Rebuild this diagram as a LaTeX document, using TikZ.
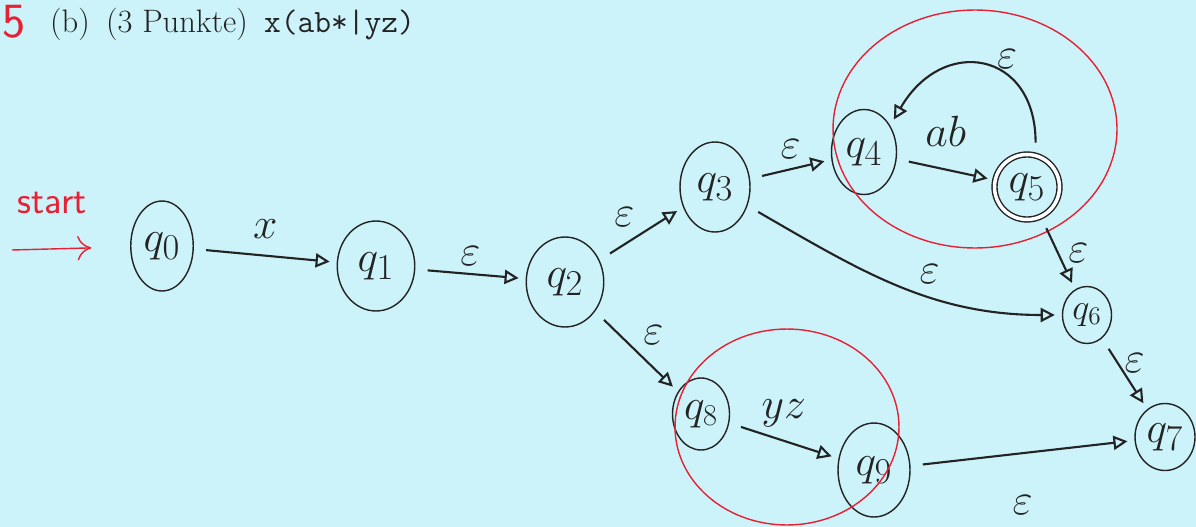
\documentclass[tikz,border=0pt]{standalone}
\usepackage{tikz}
\usetikzlibrary{arrows.meta,shapes.geometric}
\definecolor{paper}{RGB}{204,243,250}
\definecolor{pen}{RGB}{35,35,35}
\definecolor{redpen}{RGB}{232,32,52}

\begin{document}
\begin{tikzpicture}[
        x=0.02cm, y=-0.02cm,
        every node/.style={font=\fontsize{30}{34}\selectfont, text=pen},
        qstate/.style={draw=pen, thick, ellipse, inner sep=0pt, minimum width=1.4cm, minimum height=1.8cm},
        edge/.style={draw=pen, very thick, -{Triangle[open, length=8pt, width=8pt]}, shorten <=7pt, shorten >=4pt},
        lbl/.style={font=\fontsize{26}{30}\selectfont},
        hand/.style={text=redpen, font=\fontsize{22}{26}\selectfont\sffamily},
    ]
        % --- page ---
        \fill[paper] (0,0) rectangle (1196,527);
        \useasboundingbox (0,0) rectangle (1196,527);

        % --- header ---
        \node[hand, font=\fontsize{28}{30}\selectfont\sffamily] (mark) at (14,22) {5};
        \node[anchor=west, font=\fontsize{18.5}{22}\selectfont] (task) at (44,24)
            {(b)\enspace (3 Punkte)\enspace \texttt{x(ab*|yz)}};

        % --- states ---
        \node[qstate, minimum width=1.25cm]  (q0) at (162,246)  {$q_0$};
        \node[qstate, minimum width=1.55cm] (q1) at (376,266)  {$q_1$};
        \node[qstate, minimum width=1.55cm] (q2) at (565,282)  {$q_2$};
        \node[qstate]                       (q3) at (715,187)  {$q_3$};
        \node[qstate, minimum width=1.3cm, minimum height=1.7cm] (q4) at (864,152) {$q_4$};
        \node[qstate, double, double distance=2pt, minimum width=1.3cm, minimum height=1.3cm] (q5) at (1027,187) {$q_5$};
        \node[qstate, font=\fontsize{22}{26}\selectfont, minimum width=0.98cm, minimum height=1.14cm] (q6) at (1087,315) {$q_6$};
        \node[qstate, minimum width=1.2cm, minimum height=1.34cm] (q7) at (1165,437) {$q_7$};
        \node[qstate, font=\fontsize{24}{28}\selectfont, minimum width=1.14cm, minimum height=1.44cm] (q8) at (701,414) {$q_8$};
        \node[qstate, minimum width=1.44cm, minimum height=1.88cm] (q9) at (874,470) {$q_9$};

        % --- start ---
        \node[hand] (start) at (52,203) {start};
        \coordinate (entry) at (12,250);
        \draw[redpen, thick, -{To[length=8pt, width=14pt]}, shorten >=22pt] (entry) -- (q0);

        % --- red marks ---
        \draw[redpen, thick] (975,129) ellipse [x radius=2.84cm, y radius=2.38cm];
        \draw[redpen, thick] (787,427) ellipse [x radius=2.24cm, y radius=1.96cm];

        % --- transitions ---
        \draw[edge] (q0) -- node[lbl, above=6pt] {$x$} (q1);
        \draw[edge] (q1) -- node[lbl, above=1pt] {$\varepsilon$} (q2);
        \draw[edge] (q2) -- node[lbl, above left] {$\varepsilon$} (q3);
        \draw[edge] (q3) -- node[lbl, above=2pt] {$\varepsilon$} (q4);
        \draw[edge] (q4) -- node[lbl, above=9pt] {$ab$} (q5);
        \draw[edge] (q5.75) to[out=90, in=60, looseness=1.8] node[lbl, above=2pt, pos=0.35] {$\varepsilon$} (q4.45);
        \draw[edge] (q3) to[out=-30, in=180] node[lbl, above right, pos=0.55] {$\varepsilon$} (q6);
        \draw[edge] (q5) -- node[lbl, right=2pt] {$\varepsilon$} (q6);
        \draw[edge] (q6) -- node[lbl, right, pos=0.35] {$\varepsilon$} (q7);
        \draw[edge] (q2) -- node[lbl, above right] {$\varepsilon$} (q8);
        \draw[edge] (q8) -- node[lbl, above=4pt] {$yz$} (q9);
        \draw[edge] (q9) -- node[lbl, below=20pt] {$\varepsilon$} (q7);
    \end{tikzpicture}
\end{document}
